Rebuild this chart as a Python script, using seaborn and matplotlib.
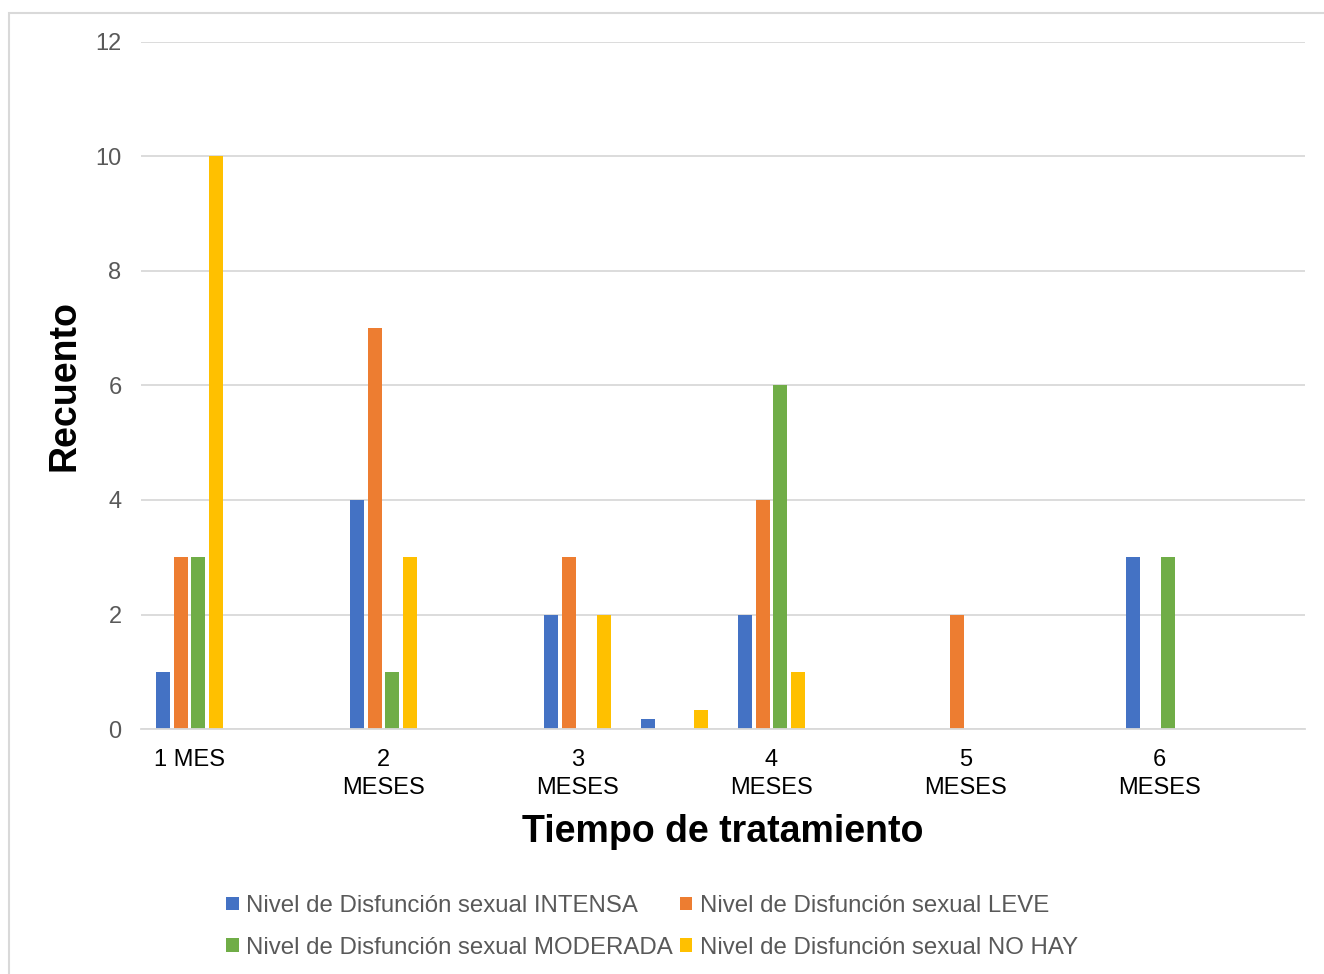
import numpy as np
import pandas as pd
import matplotlib
matplotlib.use("Agg")
import matplotlib.pyplot as plt
from matplotlib.patches import Rectangle
import seaborn as sns

# Category slots along the x axis (labels shown on every other slot)
tick_labels = ["1 MES", "", "2\nMESES", "", "3\nMESES", "", "4\nMESES", "",
               "5\nMESES", "", "6\nMESES", ""]

series_names = [
    "Nivel de Disfunción sexual INTENSA",
    "Nivel de Disfunción sexual LEVE",
    "Nivel de Disfunción sexual MODERADA",
    "Nivel de Disfunción sexual NO HAY",
]

intensa = [1, 0, 4, 0, 2, 0.17, 2, 0, 0, 0, 3, 0]
leve = [3, 0, 7, 0, 3, 0, 4, 0, 2, 0, 0, 0]
moderada = [3, 0, 1, 0, 0, 0, 6, 0, 0, 0, 3, 0]
no_hay = [10, 0, 3, 0, 2, 0.33, 1, 0, 0, 0, 0, 0]

colors = ["#4472C4", "#ED7D31", "#70AD47", "#FFC000"]

rows = []
for name, vals in zip(series_names, [intensa, leve, moderada, no_hay]):
    for pos, v in enumerate(vals):
        rows.append({"pos": pos, "nivel": name, "recuento": v})
df = pd.DataFrame(rows)

sns.set_theme(style="white")
plt.rcParams["font.family"] = ["Liberation Sans", "DejaVu Sans"]

fig = plt.figure(figsize=(13.24, 9.74), dpi=100)
ax = fig.add_axes([141 / 1324, 1 - 729 / 974, (1305 - 141) / 1324, (729 - 42) / 974])

sns.barplot(data=df, x="pos", y="recuento", hue="nivel", hue_order=series_names,
            order=list(range(12)), palette=colors, width=0.72, gap=0.2,
            linewidth=0, saturation=1, ax=ax, legend=True)

ax.set_xlim(-0.5, 11.5)
ax.set_ylim(0, 12)
ax.set_yticks(np.arange(0, 13, 2))
ax.set_yticklabels([str(v) for v in range(0, 13, 2)])
ax.set_xticks(range(12))
ax.set_xticklabels(tick_labels)

ax.yaxis.grid(True, color="#D9D9D9", linewidth=1.3)
ax.set_axisbelow(True)
for side in ["top", "right", "left"]:
    ax.spines[side].set_visible(False)
ax.spines["bottom"].set_color("#D9D9D9")
ax.spines["bottom"].set_linewidth(1.3)
ax.tick_params(axis="both", length=0)
ax.tick_params(axis="y", labelsize=17, labelcolor="#595959", pad=14)
ax.tick_params(axis="x", labelsize=17, labelcolor="black", pad=14.5)
for lab in ax.get_xticklabels():
    lab.set_linespacing(1.35)

ax.set_xlabel("Tiempo de tratamiento", fontsize=27, fontweight="bold",
              color="black", labelpad=11)
ax.set_ylabel("Recuento", fontsize=27, fontweight="bold", color="black",
              labelpad=9)

handles, labels = ax.get_legend_handles_labels()
ax.get_legend().remove()
order = [0, 2, 1, 3]
fig.legend([handles[i] for i in order], [labels[i] for i in order],
           loc="upper center", bbox_to_anchor=(652 / 1324, 1 - 883 / 974),
           ncol=2, frameon=False, fontsize=17.25, labelcolor="#595959",
           handlelength=0.52, handleheight=0.52, handletextpad=0.3,
           columnspacing=0.3, labelspacing=0.82, borderpad=0)

# Chart area outline
fig.patches.append(Rectangle((9 / 1324, -0.05), 1.2, 1 - 13 / 974 + 0.05,
                             transform=fig.transFigure, fill=False,
                             edgecolor="#D9D9D9", linewidth=1.5))

fig.savefig("out.png", dpi=100, facecolor="white")
